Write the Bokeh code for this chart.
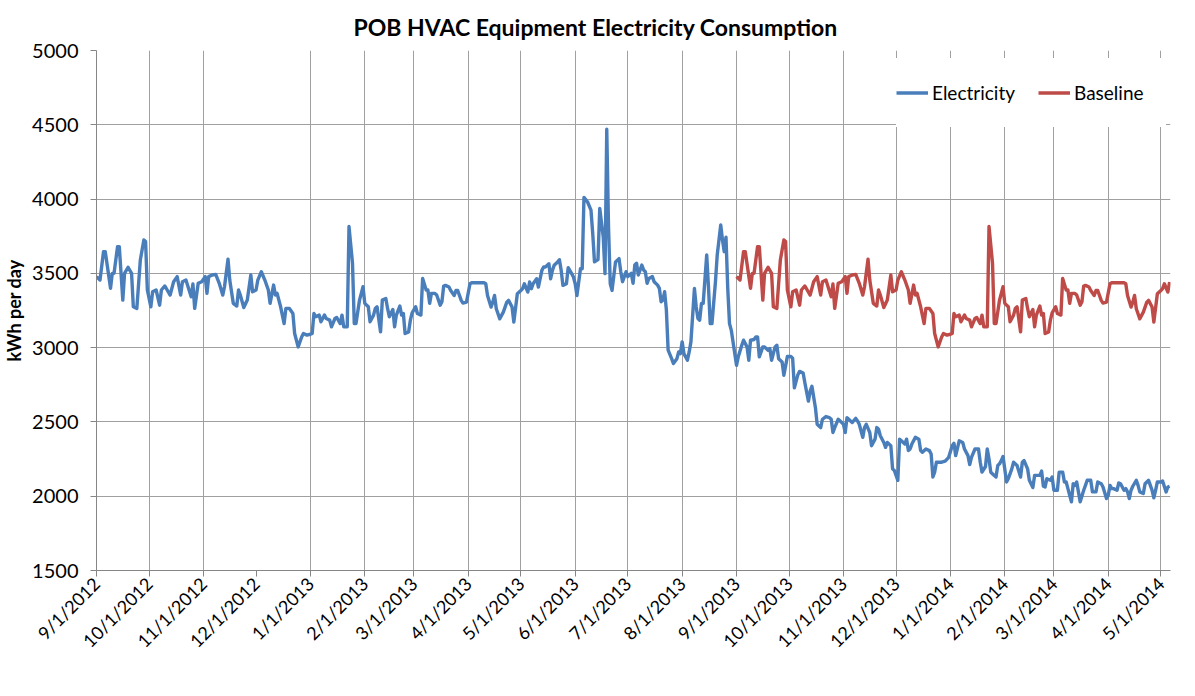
import pandas as pd
from math import pi
from bokeh.plotting import figure
from bokeh.models import FixedTicker, ColumnDataSource
from bokeh.embed import file_html
from bokeh.resources import INLINE

title_text = "POB HVAC Equipment Electricity Consumption"
y_label = "kWh per day"
series_names = ["Electricity", "Baseline"]
start_date = "2012-09-01"
baseline_start = "2013-09-01"

tick_labels = ["9/1/2012", "10/1/2012", "11/1/2012", "12/1/2012", "1/1/2013",
               "2/1/2013", "3/1/2013", "4/1/2013", "5/1/2013", "6/1/2013",
               "7/1/2013", "8/1/2013", "9/1/2013", "10/1/2013", "11/1/2013",
               "12/1/2013", "1/1/2014", "2/1/2014", "3/1/2014", "4/1/2014",
               "5/1/2014"]
no_grid_labels = ["12/1/2012"]
y_ticks = [1500, 2000, 2500, 3000, 3500, 4000, 4500, 5000]

# days since 9/1/2012
elec_day = [
    0, 2, 4, 5, 8, 9, 10, 12, 13, 15, 16, 18, 20, 21, 23, 25, 27, 28, 29, 31,
    32, 34, 36, 37, 39, 42, 44, 46, 48, 49, 51, 54, 55, 56, 58, 60, 62, 63, 64, 66,
    68, 70, 72, 73, 75, 76, 78, 80, 81, 82, 84, 86, 88, 89, 91, 92, 94, 96, 98, 99,
    101, 102, 103, 105, 107, 108, 110, 112, 113, 115, 117, 118, 120, 122, 123, 124, 125, 127, 128, 130,
    131, 133, 134, 136, 137, 139, 140, 141, 143, 144, 146, 147, 148, 150, 152, 153, 155, 156, 158, 159,
    160, 162, 163, 165, 166, 167, 169, 170, 171, 173, 174, 175, 176, 178, 179, 180, 182, 183, 185, 186,
    188, 189, 190, 191, 193, 194, 196, 197, 198, 199, 201, 202, 204, 205, 206, 208, 209, 211, 213, 214,
    217, 221, 222, 223, 225, 226, 227, 228, 230, 232, 234, 235, 237, 238, 240, 242, 243, 244, 246, 247,
    248, 249, 251, 252, 254, 255, 256, 258, 259, 260, 261, 263, 264, 265, 266, 268, 269, 271, 272, 273,
    274, 276, 277, 278, 280, 282, 283, 284, 286, 287, 289, 290, 291, 292, 293, 294, 296, 298, 299, 300,
    302, 303, 305, 306, 307, 308, 309, 311, 312, 313, 314, 315, 317, 318, 320, 321, 322, 323, 324, 325,
    326, 328, 329, 331, 332, 333, 334, 335, 337, 338, 339, 341, 342, 343, 344, 345, 346, 348, 349, 350,
    351, 353, 354, 356, 357, 358, 359, 360, 361, 362, 364, 365, 366, 368, 369, 371, 372, 373, 375, 376,
    377, 378, 380, 381, 383, 384, 385, 387, 388, 389, 391, 392, 394, 396, 397, 398, 400, 401, 403, 404,
    406, 407, 408, 410, 411, 412, 413, 414, 416, 418, 419, 420, 421, 423, 425, 426, 427, 428, 429, 430,
    431, 433, 434, 435, 437, 438, 439, 441, 442, 444, 445, 446, 447, 449, 450, 451, 453, 454, 455, 456,
    457, 458, 459, 461, 462, 463, 464, 465, 467, 469, 470, 471, 473, 475, 476, 477, 478, 479, 481, 482,
    484, 486, 488, 489, 490, 492, 494, 495, 497, 498, 499, 501, 503, 504, 505, 507, 508, 509, 510, 512,
    513, 514, 515, 516, 517, 519, 520, 522, 523, 525, 527, 528, 529, 531, 532, 534, 535, 536, 538, 539,
    540, 541, 542, 544, 545, 546, 548, 549, 551, 552, 553, 554, 556, 557, 558, 559, 560, 561, 563, 564,
    565, 567, 568, 570, 571, 573, 574, 576, 577, 578, 579, 580, 582, 583, 584, 586, 587, 588, 589, 590,
    591, 593, 594, 595, 597, 598, 600, 601, 602, 603, 604, 605, 607, 608, 610, 611, 612]
elec_kwh = [
    3478, 3455, 3646, 3646, 3399, 3500, 3500, 3680, 3680, 3320, 3500, 3541, 3500, 3275, 3264, 3590, 3725, 3714, 3388, 3275,
    3376, 3388, 3286, 3388, 3415, 3354, 3444, 3478, 3354, 3444, 3455, 3343, 3428, 3264, 3433, 3444, 3478, 3365, 3478, 3489,
    3493, 3433, 3354, 3410, 3595, 3455, 3298, 3280, 3388, 3354, 3270, 3320, 3489, 3376, 3388, 3455, 3511, 3455, 3388, 3298,
    3421, 3354, 3365, 3275, 3162, 3264, 3264, 3230, 3095, 3005, 3072, 3095, 3084, 3090, 3095, 3230, 3208, 3219, 3174, 3219,
    3196, 3185, 3140, 3196, 3203, 3162, 3219, 3140, 3140, 3815, 3568, 3162, 3162, 3320, 3410, 3298, 3275, 3174, 3219, 3264,
    3275, 3106, 3320, 3331, 3264, 3208, 3257, 3140, 3219, 3280, 3219, 3230, 3095, 3106, 3185, 3234, 3275, 3230, 3219, 3466,
    3388, 3388, 3298, 3365, 3365, 3354, 3286, 3309, 3415, 3419, 3408, 3385, 3351, 3385, 3385, 3318, 3300, 3306, 3430, 3437,
    3437, 3437, 3430, 3351, 3273, 3306, 3351, 3262, 3194, 3239, 3306, 3318, 3273, 3172, 3363, 3385, 3397, 3430, 3374, 3442,
    3397, 3430, 3464, 3408, 3520, 3543, 3543, 3565, 3464, 3520, 3554, 3577, 3592, 3520, 3419, 3430, 3538, 3498, 3475, 3430,
    3351, 3531, 3531, 4011, 3982, 3925, 3768, 3577, 3592, 3937, 3745, 3498, 4470, 3813, 3430, 3385, 3577, 3599, 3511, 3444,
    3511, 3478, 3500, 3433, 3556, 3568, 3489, 3556, 3523, 3511, 3433, 3466, 3478, 3444, 3421, 3399, 3309, 3320, 3376, 3253,
    2983, 2926, 2893, 2926, 2971, 2960, 3039, 2960, 2915, 2971, 3039, 3399, 3275, 3196, 3185, 3298, 3298, 3624, 3410, 3162,
    3162, 3444, 3624, 3826, 3725, 3646, 3743, 3399, 3162, 3118, 2960, 2881, 2938, 3016, 3050, 3005, 2915, 3050, 3055, 3072,
    3072, 2938, 3005, 3005, 2983, 2994, 2915, 3005, 3016, 2926, 2904, 2814, 2940, 2940, 2929, 2729, 2818, 2840, 2829, 2762,
    2640, 2707, 2740, 2596, 2484, 2473, 2462, 2518, 2536, 2529, 2518, 2429, 2462, 2518, 2496, 2484, 2429, 2529, 2518, 2507,
    2496, 2524, 2507, 2484, 2396, 2462, 2484, 2429, 2340, 2384, 2462, 2451, 2407, 2362, 2329, 2362, 2340, 2184, 2173, 2140,
    2107, 2384, 2373, 2351, 2384, 2307, 2318, 2351, 2396, 2384, 2307, 2296, 2318, 2307, 2284, 2129, 2162, 2229, 2229, 2229,
    2236, 2262, 2340, 2356, 2273, 2373, 2362, 2318, 2273, 2213, 2262, 2318, 2318, 2229, 2162, 2200, 2318, 2251, 2162, 2140,
    2129, 2207, 2218, 2240, 2267, 2096, 2118, 2184, 2229, 2207, 2129, 2229, 2240, 2184, 2107, 2058, 2140, 2140, 2140, 2169,
    2067, 2062, 2118, 2107, 2129, 2040, 2040, 2162, 2162, 2096, 2096, 2051, 1962, 2084, 2073, 2096, 2029, 1962, 2040, 2073,
    2107, 2107, 2029, 2029, 2096, 2084, 2062, 1984, 2007, 2073, 2051, 2051, 2040, 2089, 2084, 2040, 2051, 2029, 1984, 2040,
    2067, 2107, 2073, 2029, 2018, 2084, 2107, 2073, 2040, 1989, 2040, 2096, 2096, 2102, 2029, 2062, 2067]

# days since 9/1/2013 (baseline = same-period consumption of the prior year)
base_day = [
    0, 2, 4, 5, 8, 9, 10, 12, 13, 15, 16, 18, 20, 21, 23, 25, 27, 28, 29, 31,
    32, 34, 36, 37, 39, 42, 44, 46, 48, 49, 51, 54, 55, 56, 58, 60, 62, 63, 64, 66,
    68, 70, 72, 73, 75, 76, 78, 80, 81, 82, 84, 86, 88, 89, 91, 92, 94, 96, 98, 99,
    101, 102, 103, 105, 107, 108, 110, 112, 113, 115, 117, 118, 120, 122, 123, 124, 125, 127, 128, 130,
    131, 133, 134, 136, 137, 139, 140, 141, 143, 144, 146, 147, 148, 150, 152, 153, 155, 156, 158, 159,
    160, 162, 163, 165, 166, 167, 169, 170, 171, 173, 174, 175, 176, 178, 179, 180, 182, 183, 185, 186,
    188, 189, 190, 191, 193, 194, 196, 197, 198, 199, 201, 202, 204, 205, 206, 208, 209, 211, 213, 214,
    217, 221, 222, 223, 225, 226, 227, 228, 230, 232, 234, 235, 237, 238, 240, 242, 243, 244, 246, 247]
base_kwh = [
    3478, 3455, 3646, 3646, 3399, 3500, 3500, 3680, 3680, 3320, 3500, 3541, 3500, 3275, 3264, 3590, 3725, 3714, 3388, 3275,
    3376, 3388, 3286, 3388, 3415, 3354, 3444, 3478, 3354, 3444, 3455, 3343, 3428, 3264, 3433, 3444, 3478, 3365, 3478, 3489,
    3493, 3433, 3354, 3410, 3595, 3455, 3298, 3280, 3388, 3354, 3270, 3320, 3489, 3376, 3388, 3455, 3511, 3455, 3388, 3298,
    3421, 3354, 3365, 3275, 3162, 3264, 3264, 3230, 3095, 3005, 3072, 3095, 3084, 3090, 3095, 3230, 3208, 3219, 3174, 3219,
    3196, 3185, 3140, 3196, 3203, 3162, 3219, 3140, 3140, 3815, 3568, 3162, 3162, 3320, 3410, 3298, 3275, 3174, 3219, 3264,
    3275, 3106, 3320, 3331, 3264, 3208, 3257, 3140, 3219, 3280, 3219, 3230, 3095, 3106, 3185, 3234, 3275, 3230, 3219, 3466,
    3388, 3388, 3298, 3365, 3365, 3354, 3286, 3309, 3415, 3419, 3408, 3385, 3351, 3385, 3385, 3318, 3300, 3306, 3430, 3437,
    3437, 3437, 3430, 3351, 3273, 3306, 3351, 3262, 3194, 3239, 3306, 3318, 3273, 3172, 3363, 3385, 3397, 3430, 3374, 3442]

FONT = "Lato"
BLUE = "#4A7EBB"
RED = "#BE4B48"
GRID = "#A0A0A0"
AXIS = "#868686"

t0 = pd.Timestamp(start_date)
base_offset = (pd.Timestamp(baseline_start) - t0).days
tick_pos = [(pd.to_datetime(s, format="%m/%d/%Y") - t0).days for s in tick_labels]
grid_pos = [pos for pos, s in zip(tick_pos, tick_labels) if s not in no_grid_labels]

elec_src = ColumnDataSource(dict(x=elec_day, y=elec_kwh))
base_src = ColumnDataSource(dict(x=[d + base_offset for d in base_day], y=base_kwh))

p = figure(width=1195, height=696, output_backend="svg", toolbar_location=None,
           x_range=(0, 612.5), y_range=(1500, 5000),
           min_border_left=95, min_border_right=25, min_border_top=50, min_border_bottom=126)
p.outline_line_color = None
p.background_fill_color = "white"
p.border_fill_color = "white"

p.title.text = title_text
p.title.text_font = FONT
p.title.text_font_style = "bold"
p.title.text_font_size = "23px"
p.title.text_color = "black"
p.title.align = "left"
p.title.offset = 257
p.title.standoff = 20

p.line("x", "y", source=elec_src, line_color=BLUE, line_width=3.4, line_join="round",
       legend_label=series_names[0])
p.line("x", "y", source=base_src, line_color=RED, line_width=3.4, line_join="round",
       legend_label=series_names[1])

# x axis
xa = p.xaxis[0]
xa.ticker = FixedTicker(ticks=tick_pos)
xa.major_label_overrides = {pos: lab for pos, lab in zip(tick_pos, tick_labels)}
xa.major_label_orientation = pi / 4
xa.major_label_text_font = FONT
xa.major_label_text_font_size = "18px"
xa.major_label_text_color = "black"
xa.major_label_standoff = 4
xa.minor_tick_line_color = None
xa.major_tick_out = 6
xa.major_tick_in = 0
xa.major_tick_line_color = AXIS
xa.axis_line_color = AXIS

# y axis
ya = p.yaxis[0]
ya.ticker = FixedTicker(ticks=y_ticks)
ya.axis_label = y_label
ya.axis_label_text_font = FONT
ya.axis_label_text_font_style = "bold"
ya.axis_label_text_font_size = "18px"
ya.axis_label_text_color = "black"
ya.axis_label_standoff = 4
ya.major_label_text_font = FONT
ya.major_label_text_font_size = "20px"
ya.major_label_text_color = "black"
ya.major_label_standoff = 12
ya.minor_tick_line_color = None
ya.major_tick_out = 6
ya.major_tick_in = 0
ya.major_tick_line_color = AXIS
ya.axis_line_color = AXIS

p.xgrid.ticker = FixedTicker(ticks=grid_pos)
p.xgrid.grid_line_color = GRID
p.ygrid.grid_line_color = GRID
p.ygrid.ticker = FixedTicker(ticks=y_ticks)

lg = p.legend[0]
lg.orientation = "horizontal"
lg.location = (800, 443)
lg.margin = 0
lg.padding = 0
lg.spacing = 14
lg.glyph_width = 32
lg.glyph_height = 69
lg.label_height = 69
lg.label_width = 92
lg.label_standoff = 4
lg.label_text_font = FONT
lg.label_text_font_size = "19px"
lg.label_text_color = "black"
lg.border_line_color = None
lg.background_fill_color = "white"
lg.background_fill_alpha = 1.0

open("out.html", "w").write(file_html(p, INLINE))
